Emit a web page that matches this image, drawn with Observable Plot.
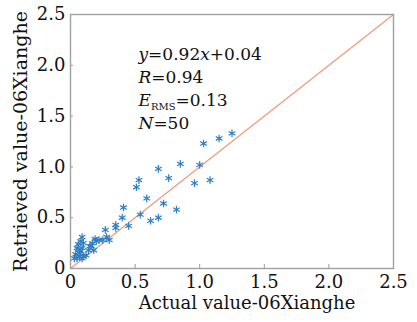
<!DOCTYPE html>
<html>
<head>
<meta charset="utf-8">
<script src="https://cdn.jsdelivr.net/npm/d3@7"></script>
<script src="https://cdn.jsdelivr.net/npm/@observablehq/plot@0.6"></script>
<style>
  html, body { margin: 0; padding: 0; background: white; }
</style>
</head>
<body>
<div id="chart"></div>
<script>
// Data
const actual = [1.25, 1.15, 1.03, 1.00, 0.85, 0.68, 0.76, 0.53, 0.51, 0.96,
                1.08, 0.59, 0.72, 0.82, 0.41, 0.40, 0.54, 0.62, 0.68, 0.45,
                0.35, 0.35, 0.27, 0.28, 0.30, 0.22, 0.19, 0.17, 0.18, 0.14,
                0.15, 0.09, 0.06, 0.09, 0.08, 0.07, 0.03, 0.05, 0.09, 0.07,
                0.05, 0.08, 0.10, 0.12, 0.04, 0.16, 0.25, 0.20, 0.10, 0.06];
const retrieved = [1.33, 1.28, 1.23, 1.02, 1.03, 0.98, 0.89, 0.87, 0.80, 0.84,
                   0.87, 0.69, 0.64, 0.58, 0.60, 0.50, 0.53, 0.47, 0.50, 0.42,
                   0.43, 0.40, 0.38, 0.31, 0.28, 0.28, 0.29, 0.25, 0.18, 0.18,
                   0.22, 0.31, 0.24, 0.20, 0.17, 0.12, 0.10, 0.10, 0.10, 0.15,
                   0.20, 0.27, 0.25, 0.13, 0.14, 0.22, 0.28, 0.27, 0.12, 0.19];
const refLine = [0, 2.5];
const xTicks = [0, 0.5, 1.0, 1.5, 2.0, 2.5];
const yTicks = [0, 0.5, 1.0, 1.5, 2.0, 2.5];
const annoLines = ["y=0.92x+0.04", "R=0.94", "ERMS=0.13", "N=50"];
const xLabel = "Actual value-06Xianghe";
const yLabel = "Retrieved value-06Xianghe";

const points = actual.map((a, i) => ({a, r: retrieved[i]}));
const lineData = refLine.map(v => ({a: v, r: v}));
const fmt = d => d === 0 ? "0" : d.toFixed(1);

const chart = Plot.plot({
  width: 417,
  height: 322,
  marginLeft: 70,
  marginRight: 24,
  marginTop: 14,
  marginBottom: 54,
  style: {fontFamily: "'DejaVu Serif', serif", fontSize: "18px", color: "#111", background: "white"},
  x: {domain: [0, 2.5], ticks: xTicks, tickFormat: fmt, tickSize: 0, tickPadding: 7, label: null},
  y: {domain: [0, 2.5], ticks: yTicks, tickFormat: fmt, tickSize: 0, tickPadding: 5, label: null},
  marks: [
    Plot.ruleX(xTicks.slice(1, -1), {stroke: "#9a9a9a", insetTop: 250}),
    Plot.ruleY(yTicks.slice(1, -1), {stroke: "#9a9a9a", insetRight: 320}),
    Plot.line(lineData, {x: "a", y: "r", stroke: "#ef9c7e", strokeWidth: 1.3}),
    Plot.dot(points, {x: "a", y: "r", symbol: "asterisk", r: 3.6, stroke: "#2f7fc4", strokeWidth: 1.2}),
    Plot.frame({stroke: "#a0a0a0", strokeWidth: 1.4}),
    ...annoLines.map((t, i) => Plot.text([t], {
      frameAnchor: "top-left", textAnchor: "start", dx: 68, dy: 33 + 23 * i,
      fontSize: 17, fill: "#111"
    })),
    Plot.text([xLabel], {frameAnchor: "bottom", textAnchor: "middle", dx: 15, dy: 40, fontSize: 18, fill: "#111"}),
    Plot.text([yLabel], {frameAnchor: "left", textAnchor: "middle", dx: -50, rotate: -90, fontSize: 19, fill: "#111"})
  ]
});

// Rich formatting (italic symbols, subscript) for the annotation
const rich = {
  "y=0.92x+0.04": '<tspan font-style="italic">y</tspan>=0.92<tspan font-style="italic">x</tspan>+0.04',
  "R=0.94": '<tspan font-style="italic">R</tspan>=0.94',
  "ERMS=0.13": '<tspan font-style="italic">E</tspan><tspan font-size="10" dy="4">RMS</tspan><tspan dy="-4">=0.13</tspan>',
  "N=50": '<tspan font-style="italic">N</tspan>=50'
};
d3.select(chart).selectAll("text").each(function() {
  const t = this.textContent;
  if (rich[t]) this.innerHTML = rich[t];
});

document.getElementById("chart").appendChild(chart);
</script>
</body>
</html>
